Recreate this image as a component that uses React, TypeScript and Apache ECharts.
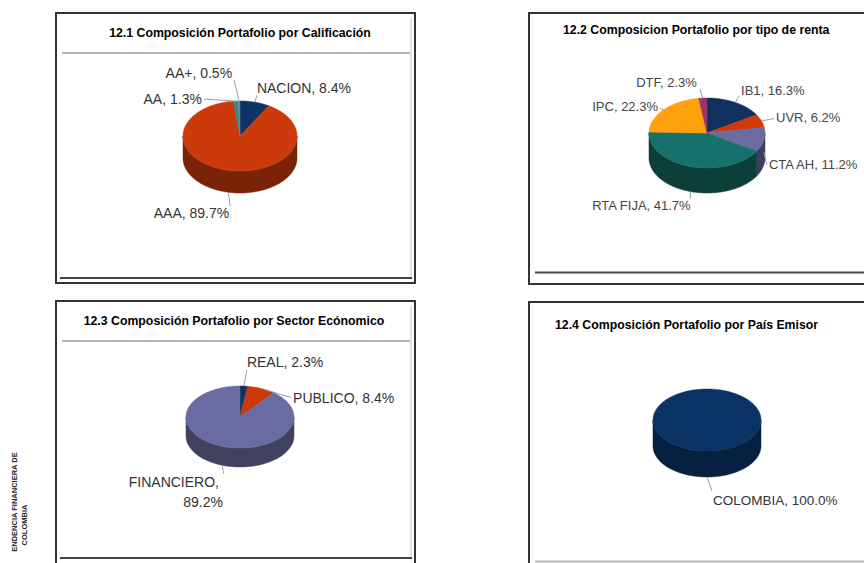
import React, { useEffect, useRef } from "react";
import * as echarts from "echarts";

// ---- data ----
const ratingNames = ["NACION", "AAA", "AA", "AA+"];
const ratingValues = [8.4, 89.7, 1.3, 0.5];

const rentaNames = ["IB1", "UVR", "CTA AH", "RTA FIJA", "IPC", "DTF"];
const rentaValues = [16.3, 6.2, 11.2, 41.7, 22.3, 2.3];

const sectorNames = ["REAL", "PUBLICO", "FINANCIERO"];
const sectorValues = [2.3, 8.4, 89.2];

const paisNames = ["COLOMBIA"];
const paisValues = [100.0];

const chartTitles = [
  "12.1 Composición Portafolio por Calificación",
  "12.2 Composicion Portafolio por tipo de renta",
  "12.3 Composición Portafolio por Sector Ecónomico",
  "12.4 Composición Portafolio por País Emisor",
];

// ---- layout / style ----
const FONT = "'Liberation Sans', Arial, sans-serif";

const pieLayouts: any[] = [
  {
    names: ratingNames, values: ratingValues,
    cx: 240, cy: 136, rx: 57, ry: 35, depth: 22, fontSize: 14, labelColor: "#333", lineColor: "#8fa3b3",
    colors: ["#0c3464", "#cc3a0b", "#2e8c86", "#7b7bb0"],
    sideColors: ["#061c38", "#7a2306", "#15514d", "#45456a"],
    labels: [
      { dx: 2, dy: -14, align: "left", ldx: 2, ldy: -7, k: 0 },
      { dx: 1, dy: 43, align: "right", ldx: 2, ldy: 36, k: 1 },
      { dx: -34, dy: -2, align: "right", ldx: -32, ldy: -2, k: 0 },
      { dx: -7, dy: -28, align: "right", ldx: -5, ldy: -21, k: 0 },
    ],
  },
  {
    names: rentaNames, values: rentaValues,
    cx: 707, cy: 133, rx: 58, ry: 35, depth: 25, fontSize: 13, labelColor: "#444", lineColor: "#8fa3b3",
    colors: ["#10315f", "#d13a08", "#6b6ba0", "#17716b", "#ffa00c", "#9b3468"],
    sideColors: ["#081c38", "#7a2205", "#3d3d5e", "#0c3e3a", "#9a6006", "#5a1d3c"],
    labels: [
      { dx: 5.6, dy: -11.5, align: "left", ldx: 3.6, ldy: -6.5, k: 0 },
      { dx: 14.6, dy: -3, align: "left", ldx: 12.6, ldy: -2.4, k: 0 },
      { dx: 5, dy: 25, align: "left", ldx: 3, ldy: 25, k: 0.5 },
      { dx: 0, dy: 38.5, align: "right", ldx: -0.5, ldy: 32, k: 1 },
      { dx: -5.6, dy: -2.8, align: "right", ldx: -3.6, ldy: -1.3, k: 0 },
      { dx: -6, dy: -16, align: "right", ldx: -3, ldy: -9, k: 0 },
    ],
  },
  {
    names: sectorNames, values: sectorValues,
    cx: 240, cy: 417, rx: 54, ry: 31, depth: 19, fontSize: 14, labelColor: "#333", lineColor: "#8fa3b3",
    colors: ["#0c3464", "#cc3a0b", "#6b6ba3"],
    sideColors: ["#061c38", "#7a2306", "#40405f"],
    labels: [
      { dx: 3, dy: -24, align: "left", ldx: 3, ldy: -16, k: 0 },
      { dx: 31.6, dy: 9.4, align: "left", ldx: 29.6, ldy: 8.9, k: 0 },
      { dx: 0.7, dy: 45.7, align: "right", ldx: 1.7, ldy: 27.7, k: 1, width: 106, overflow: "break", lineHeight: 20 },
    ],
  },
  {
    names: paisNames, values: paisValues,
    cx: 707, cy: 420, rx: 54, ry: 31, depth: 26, fontSize: 13.5, labelColor: "#333", lineColor: "#8fa3b3",
    colors: ["#0a3264"],
    sideColors: ["#06203f"],
    labels: [{ dx: 6, dy: 49, align: "left", ldx: 5, ldy: 40, k: 1 }],
  },
];

function makeRenderItem(layout: any) {
  return (params: any, api: any) => {
    const i = params.dataIndex;
    const v = api.value(0);
    const start = api.value(1);
    const total = api.value(2);
    const { cx, cy, rx, ry, depth } = layout;
    const a0 = -Math.PI / 2 + (2 * Math.PI * start) / total;
    const a1 = a0 + (2 * Math.PI * v) / total;
    const pt = (a: number, off = 0) => [cx + rx * Math.cos(a), cy + ry * Math.sin(a) + off];
    const arc = (s: number, e: number, off = 0) => {
      const n = Math.max(2, Math.ceil((e - s) / (Math.PI / 120)) + 1);
      const pts: number[][] = [];
      for (let j = 0; j < n; j++) pts.push(pt(s + ((e - s) * j) / (n - 1), off));
      return pts;
    };
    const children: any[] = [];
    const lo = Math.max(a0, 0);
    const hi = Math.min(a1, Math.PI);
    if (hi > lo) {
      const topEdge = arc(lo, hi);
      const botEdge = arc(lo, hi, depth).reverse();
      children.push({
        type: "polygon",
        shape: { points: topEdge.concat(botEdge) },
        style: { fill: layout.sideColors[i], stroke: layout.sideColors[i], lineWidth: 0.5 },
        z2: 1,
      });
    }
    const full = v >= total - 1e-9;
    const topPts = full ? arc(a0, a1) : [[cx, cy]].concat(arc(a0, a1));
    children.push({
      type: "polygon",
      shape: { points: topPts },
      style: { fill: layout.colors[i], stroke: layout.colors[i], lineWidth: 0.5 },
      z2: 2,
    });
    const lab = layout.labels[i];
    const am = (a0 + a1) / 2;
    const rim = pt(am);
    children.push({
      type: "polyline",
      shape: { points: [[rim[0], rim[1] + lab.k * depth], [rim[0] + lab.ldx, rim[1] + lab.ldy]] },
      style: { stroke: layout.lineColor, lineWidth: 1, fill: null },
      z2: 5,
    });
    const textStyle: any = {
      text: `${layout.names[i]}, ${v.toFixed(1)}%`,
      fill: layout.labelColor,
      font: `${layout.fontSize}px ${FONT}`,
      align: lab.align,
      verticalAlign: "middle",
    };
    if (lab.width) {
      textStyle.width = lab.width;
      textStyle.overflow = lab.overflow;
      textStyle.ellipsis = "...";
    }
    if (lab.lineHeight) textStyle.lineHeight = lab.lineHeight;
    children.push({ type: "text", x: rim[0] + lab.dx, y: rim[1] + lab.dy, style: textStyle, z2: 6 });
    return { type: "group", children };
  };
}

function buildSeries() {
  return pieLayouts.map((layout, si) => {
    const total = layout.values.reduce((s: number, x: number) => s + x, 0);
    let cum = 0;
    const data = layout.values.map((v: number, i: number) => {
      const item = { name: layout.names[i], value: [v, cum, total] };
      cum += v;
      return item;
    });
    return {
      type: "custom",
      name: chartTitles[si],
      coordinateSystem: "none",
      renderItem: makeRenderItem(layout),
      data,
      silent: true,
    };
  });
}

function line(x1: number, y1: number, x2: number, y2: number, stroke: string, lineWidth: number) {
  return { type: "line", shape: { x1, y1, x2, y2 }, style: { stroke, lineWidth }, silent: true };
}
function frame(x: number, y: number, width: number, height: number) {
  return {
    type: "rect",
    shape: { x, y, width, height },
    style: { fill: null, stroke: "#333", lineWidth: 2 },
    silent: true,
  };
}
function title(text: string, x: number, y: number, align: string) {
  return {
    type: "text",
    x,
    y,
    style: { text, fill: "#000", font: `bold 12.3px ${FONT}`, align, verticalAlign: "middle" },
    silent: true,
  };
}

export default function App() {
  const ref = useRef<HTMLDivElement>(null);
  useEffect(() => {
    if (!ref.current) return;
    const chart = echarts.init(ref.current, null, { renderer: "svg" });
    chart.setOption({
      animation: false,
      backgroundColor: "#ffffff",
      series: buildSeries(),
      graphic: [
        // panel 1
        frame(56, 13, 359, 270),
        line(62, 53, 410, 53, "#9a9a9a", 1.5),
        line(411, 18, 411, 278, "#c8c8c8", 1),
        line(60, 278, 412, 278, "#444", 2),
        title(chartTitles[0], 240, 33, "center"),
        // panel 2
        frame(529, 13, 400, 271),
        line(535, 272.5, 870, 272.5, "#444", 2),
        title(chartTitles[1], 563, 30, "left"),
        // panel 3
        frame(56, 301, 359, 300),
        line(62, 341, 410, 341, "#9a9a9a", 1.5),
        line(411, 306, 411, 558, "#c8c8c8", 1),
        line(60, 558, 412, 558, "#444", 2),
        title(chartTitles[2], 234, 321, "center"),
        // panel 4
        frame(529, 302, 400, 300),
        line(535, 561.5, 870, 561.5, "#bbbbbb", 2),
        title(chartTitles[3], 555, 325, "left"),
        // side caption
        {
          type: "text",
          x: 14,
          y: 502,
          rotation: Math.PI / 2,
          style: { text: "ENDENCIA FINANCIERA DE", fill: "#222", font: `bold 7.5px ${FONT}`, align: "center", verticalAlign: "middle" },
          silent: true,
        },
        {
          type: "text",
          x: 24,
          y: 525,
          rotation: Math.PI / 2,
          style: { text: "COLOMBIA", fill: "#222", font: `bold 7.5px ${FONT}`, align: "center", verticalAlign: "middle" },
          silent: true,
        },
      ],
    });
    return () => chart.dispose();
  }, []);
  return (
    <div
      ref={ref}
      style={{ position: "absolute", left: 0, top: 0, width: 864, height: 563, background: "#fff" }}
    />
  );
}
